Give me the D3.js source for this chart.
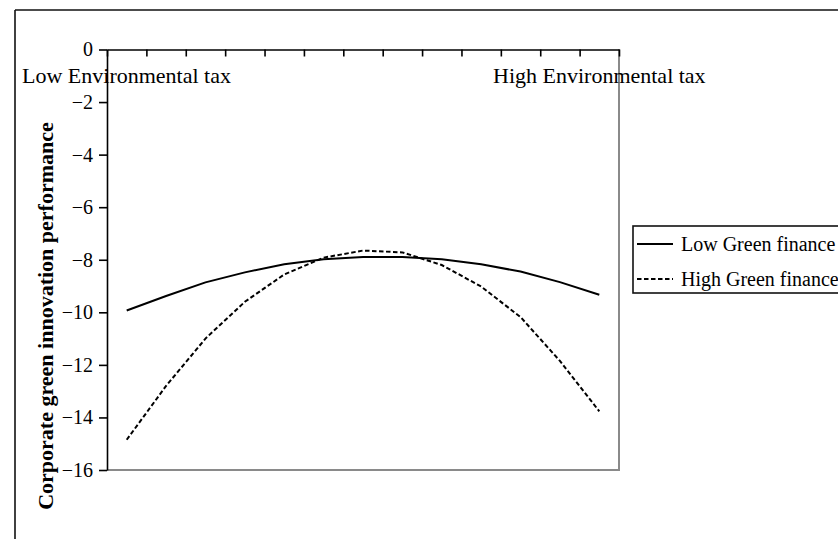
<!DOCTYPE html>
<html>
<head>
<meta charset="utf-8">
<script src="https://cdn.jsdelivr.net/npm/d3@7"></script>
<style>
  html, body { margin: 0; padding: 0; background: #fff; }
  svg { display: block; }
  text { font-family: "Liberation Serif", "Times New Roman", serif; fill: #000; }
</style>
</head>
<body>
<svg id="chart" width="838" height="539"></svg>
<script>
// ---- data ----
const categories = d3.range(1, 14); // 13 points along environmental tax
const lowGreenFinance = [-9.93, -9.38, -8.86, -8.48, -8.17, -7.98, -7.90, -7.90, -7.98, -8.17, -8.45, -8.85, -9.33];
const highGreenFinance = [-14.85, -12.80, -11.00, -9.60, -8.56, -7.92, -7.65, -7.72, -8.20, -9.02, -10.18, -11.85, -13.77];
const yTicks = [0, -2, -4, -6, -8, -10, -12, -14, -16];
const seriesNames = ["Low Green finance", "High Green finance"];
const xEndLabels = ["Low Environmental tax", "High Environmental tax"];
const yTitle = "Corporate green innovation performance";

// ---- layout ----
const svg = d3.select("#chart");
const plot = { left: 107, right: 619, top: 49.5, bottom: 470 };

// outer frame (top + left, continues beyond the picture)
svg.append("line").attr("x1", 15).attr("x2", 840).attr("y1", 10).attr("y2", 10)
  .attr("stroke", "#111").attr("stroke-width", 1.6);
svg.append("line").attr("x1", 15).attr("x2", 15).attr("y1", 10).attr("y2", 545)
  .attr("stroke", "#111").attr("stroke-width", 1.6);

const x = d3.scaleBand().domain(categories).range([plot.left, plot.right]).padding(0);
const y = d3.scaleLinear().domain([-16, 0]).range([plot.bottom, plot.top]);

// plot area gray border (right & bottom)
svg.append("path")
  .attr("d", `M${plot.left},${plot.bottom}H${plot.right}V${plot.top}`)
  .attr("fill", "none").attr("stroke", "#8a8a8a").attr("stroke-width", 2);

// top axis with ticks at category boundaries (pointing down into plot)
const boundaries = categories.map(c => x(c)).concat([plot.right]);
const xAxisScale = d3.scaleLinear().domain([plot.left, plot.right]).range([plot.left, plot.right]);
const gx = svg.append("g").attr("transform", `translate(0,${plot.top})`)
  .call(d3.axisTop(xAxisScale).tickValues(boundaries).tickSize(-7).tickSizeOuter(0).tickFormat(""));
gx.select(".domain").attr("stroke", "#000").attr("stroke-width", 1.6);
gx.selectAll(".tick line").attr("stroke", "#000").attr("stroke-width", 1.6);

// left axis
const gy = svg.append("g").attr("transform", `translate(${plot.left},0)`)
  .call(d3.axisLeft(y).tickValues(yTicks).tickSize(8).tickSizeOuter(0).tickPadding(6)
    .tickFormat(d => d === 0 ? "0" : d3.format("d")(d)));
gy.select(".domain").attr("stroke", "#000").attr("stroke-width", 1.6);
gy.selectAll(".tick line").attr("stroke", "#000").attr("stroke-width", 1.6);
gy.selectAll(".tick text").attr("font-family", "Liberation Serif").attr("font-size", 20).attr("fill", "#000");

// end labels
svg.append("text").attr("x", 22).attr("y", 83).attr("font-size", 22).text(xEndLabels[0]);
svg.append("text").attr("x", 493).attr("y", 83).attr("font-size", 22).text(xEndLabels[1]);

// y title
svg.append("text")
  .attr("transform", "translate(53,316) rotate(-90)")
  .attr("text-anchor", "middle").attr("font-size", 22).attr("font-weight", "bold")
  .text(yTitle);

// lines
const line = d3.line().x((d, i) => x(categories[i]) + x.bandwidth() / 2).y(d => y(d));
svg.append("path").datum(lowGreenFinance).attr("d", line)
  .attr("fill", "none").attr("stroke", "#000").attr("stroke-width", 2);
svg.append("path").datum(highGreenFinance).attr("d", line)
  .attr("fill", "none").attr("stroke", "#000").attr("stroke-width", 2).attr("stroke-dasharray", "4.5,2.5");

// legend
const lg = svg.append("g");
lg.append("rect").attr("x", 633).attr("y", 226).attr("width", 220).attr("height", 67)
  .attr("fill", "#fff").attr("stroke", "#111").attr("stroke-width", 1.6);
const dashes = [null, "4.5,2.5"];
seriesNames.forEach((name, i) => {
  const yy = 244 + i * 35;
  lg.append("line").attr("x1", 637).attr("x2", 673).attr("y1", yy).attr("y2", yy)
    .attr("stroke", "#000").attr("stroke-width", 2).attr("stroke-dasharray", dashes[i]);
  lg.append("text").attr("x", 681).attr("y", yy + 7).attr("font-size", 20).text(name);
});
</script>
</body>
</html>
